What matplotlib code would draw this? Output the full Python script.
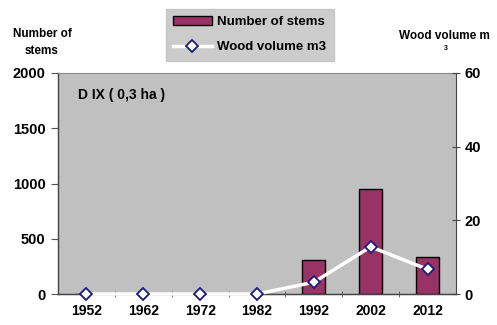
import matplotlib
matplotlib.use("Agg")
import matplotlib.pyplot as plt
from matplotlib.lines import Line2D
from matplotlib.patches import Patch
import numpy as np

years = ["1952", "1962", "1972", "1982", "1992", "2002", "2012"]
stems = [0, 0, 0, 0, 308, 950, 335]
volume = [0, 0, 0, 0, 3.2, 12.8, 6.7]

plt.rcParams["font.family"] = ["Liberation Sans", "DejaVu Sans"]
plt.rcParams["font.weight"] = "bold"

fig = plt.figure(figsize=(4.97, 3.25), dpi=100)
ax = fig.add_axes([58/497, 1-294/325, 398/497, 221/325])
ax.set_facecolor("#C0C0C0")

x = np.arange(len(years))
ax.bar(x, stems, width=0.4, color="#993366", edgecolor="black", linewidth=1, zorder=2)
ax.set_xlim(-0.5, 6.5)
ax.set_ylim(0, 2000)
ax.set_yticks([0, 500, 1000, 1500, 2000])
ax.set_xticks(x)
ax.set_xticklabels(years, fontsize=10, fontweight="bold")
ax.tick_params(axis="x", length=0, pad=7)
ax.set_xticks(np.arange(0.5, 6.5, 1), minor=True)
ax.tick_params(axis="x", which="minor", length=5, color="#555555", direction="inout")
ax.tick_params(axis="y", labelsize=10.5, length=5, color="#555555", pad=4)
for lab in ax.get_yticklabels():
    lab.set_fontweight("bold")

for s in ["left", "bottom"]:
    ax.spines[s].set_color("#444444")
    ax.spines[s].set_linewidth(1)
ax.spines["top"].set_color("#888888")
ax.spines["right"].set_visible(False)

ax2 = ax.twinx()
ax2.set_ylim(0, 60)
ax2.set_yticks([0, 20, 40, 60])
ax2.plot(x, volume, color="white", linewidth=2.5, marker="D", markersize=6,
         markerfacecolor="white", markeredgecolor="#1a1a80", markeredgewidth=1.3,
         zorder=3, clip_on=False)
ax2.tick_params(axis="y", labelsize=10.5, length=6, color="#444444", pad=3,
                direction="inout")
for lab in ax2.get_yticklabels():
    lab.set_fontweight("bold")
ax2.spines["right"].set_color("#444444")
ax2.spines["left"].set_visible(False)
ax2.spines["top"].set_visible(False)
ax2.spines["bottom"].set_color("#444444")

ax.text(0.05, 0.9, "D IX ( 0,3 ha )", transform=ax.transAxes, fontsize=10,
        fontweight="bold", va="center", ha="left")

fig.text(42/497, 1-34/325, "Number of", fontsize=8.5, fontweight="bold", ha="center", va="center")
fig.text(42/497, 1-51/325, "stems", fontsize=8.5, fontweight="bold", ha="center", va="center")
fig.text(444/497, 1-36/325, "Wood volume m", fontsize=8.5, fontweight="bold", ha="center", va="center")
fig.text(446/497, 1-48/325, "3", fontsize=5, fontweight="bold", ha="center", va="center")

handles = [Patch(facecolor="#993366", edgecolor="black", label="Number of stems"),
           Line2D([], [], color="white", linewidth=2.5, marker="D", markersize=6,
                  markerfacecolor="white", markeredgecolor="#1a1a80",
                  markeredgewidth=1.3, label="Wood volume m3")]
leg = fig.legend(handles=handles, loc="upper left",
                 bbox_to_anchor=(166/497, 1-9/325), frameon=True,
                 fontsize=9.5, handlelength=2.9, handletextpad=0.45,
                 borderpad=0.55, labelspacing=0.95, borderaxespad=0,
                 fancybox=False)
leg.get_frame().set_facecolor("#C0C0C0")
leg.get_frame().set_edgecolor("#C0C0C0")
for t in leg.get_texts():
    t.set_fontweight("bold")

fig.savefig("out.png", dpi=100)
